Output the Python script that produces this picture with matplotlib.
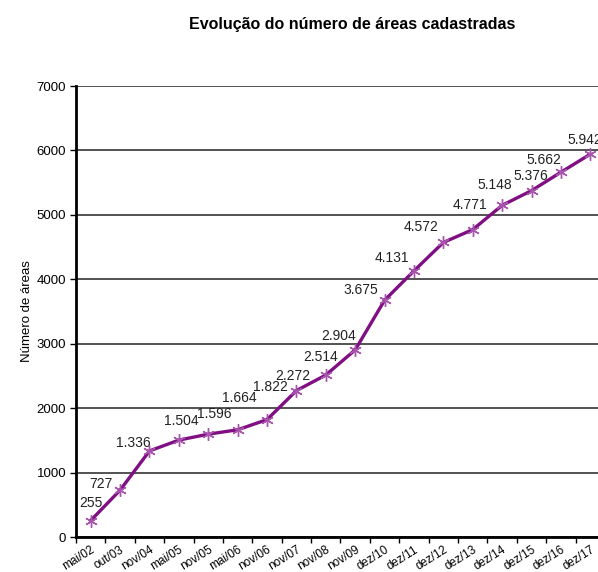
import matplotlib
matplotlib.use("Agg")
import matplotlib.pyplot as plt
import numpy as np

# data
periods = ["mai/02", "out/03", "nov/04", "mai/05", "nov/05", "mai/06", "nov/06",
           "nov/07", "nov/08", "nov/09", "dez/10", "dez/11", "dez/12", "dez/13",
           "dez/14", "dez/15", "dez/16", "dez/17"]
areas = [255, 727, 1336, 1504, 1596, 1664, 1822, 2272, 2514, 2904,
         3675, 4131, 4572, 4771, 5148, 5376, 5662, 5942]
labels = [f"{v:,}".replace(",", ".") for v in areas]

plt.rcParams["font.family"] = ["Liberation Sans", "DejaVu Sans"]

W, H = 598, 572
fig = plt.figure(figsize=(W / 100, H / 100), dpi=100)
# plot area runs slightly past the right edge, as in the original
ax = fig.add_axes([76 / W, 35 / H, (605 - 76) / W, (537 - 86) / H])

x = np.arange(len(areas))
ax.plot(x, areas, color="#7f0f82", lw=2.4, zorder=3)
ax.plot(x, areas, ls="none", marker=(6, 2, 0), ms=9, mew=1.0,
        color="#a855ad", zorder=4)

# label offsets in pixels (dx, dy), matching the Excel placement
offs = [(0, 18), (-19, 6), (-16, 8), (2, 19), (6, 20), (2, 32), (3, 33),
        (-4, 15), (-5, 18), (-17, 14), (-24, 10), (-22, 13), (-22, 15),
        (-3, 25), (-7, 20), (-1, 15), (-17, 12), (-5, 14)]
for xi, v, lab, (dx, dy) in zip(x, areas, labels, offs):
    ax.annotate(lab, (xi, v), xytext=(dx, dy), textcoords="offset pixels",
                ha="center", va="center", fontsize=10, color="#222222")

ax.set_xlim(-0.5, len(areas) - 0.5)
ax.set_ylim(0, 7000)
ax.set_yticks(range(0, 7001, 1000))
ax.yaxis.grid(True, color="#444444", lw=1.3)
ax.set_axisbelow(True)

ax.set_xticks(x)
ax.set_xticklabels(periods, rotation=32, ha="right", va="top",
                   rotation_mode="anchor", fontsize=8.5)
ax.tick_params(axis="x", which="major", length=0, pad=5)
ax.set_xticks(np.arange(-0.5, len(areas), 1), minor=True)
ax.tick_params(axis="x", which="minor", length=4, width=1, direction="out")
ax.tick_params(axis="y", length=4, width=1, labelsize=9.5, pad=3)

for s in ["top", "right"]:
    ax.spines[s].set_visible(False)
for s in ["left", "bottom"]:
    ax.spines[s].set_linewidth(2)

ax.set_ylabel("Número de áreas", fontsize=9.5)
ax.yaxis.set_label_coords((33 - 76) / 529, 0.5)
fig.text(352 / W, 1 - 25 / H, "Evolução do número de áreas cadastradas",
         ha="center", va="center", fontsize=11.5, fontweight="bold")

fig.savefig("out.png", dpi=100)
